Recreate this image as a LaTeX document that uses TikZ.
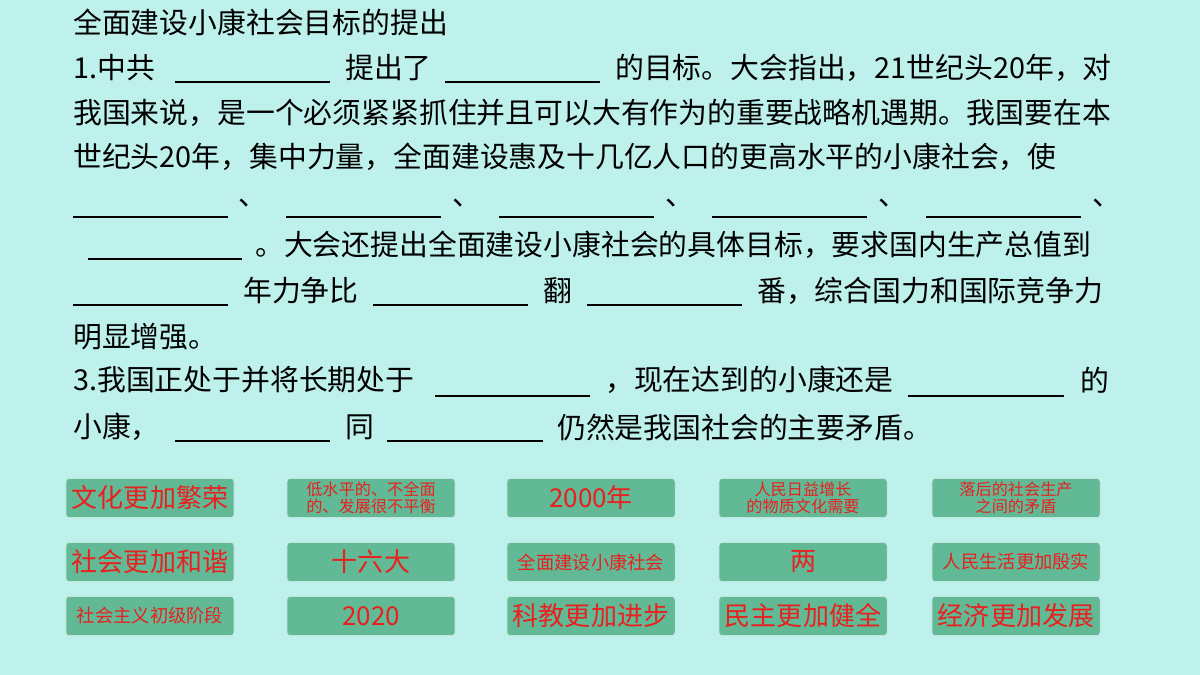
\documentclass[tikz,border=0pt]{standalone}
\usepackage{fontspec}
\setmainfont{Noto Sans CJK SC}
\definecolor{bgc}{HTML}{BFF1EC}
\definecolor{btn}{HTML}{62B996}
\definecolor{txtred}{HTML}{E8201E}
\tikzset{
  line/.style={anchor=west, inner sep=0pt, font=\fontsize{20.5}{20.5}\selectfont},
  choice/.style={draw=white!70!btn, fill=btn, rounded corners=2pt, minimum width=4.2cm, minimum height=0.97cm, inner sep=0pt, text=txtred, align=center},
  big/.style={font=\fontsize{18.5}{18.5}\selectfont},
  small/.style={font=\fontsize{13}{14}\selectfont},
  tiny/.style={font=\fontsize{11.5}{12}\selectfont}
}
\newcommand{\blank}[3]{\draw[line width=0.8pt] (#1,#3) -- (#2,#3);}
\begin{document}
\begin{tikzpicture}[x=0.025cm, y=-0.025cm]
\fill[bgc] (0,0) rectangle (1200,675);
\useasboundingbox (0,0) rectangle (1200,675);
% title
\node[line] (t0) at (73,22) {全面建设小康社会目标的提出};
% question 1
\node[line] (l1a) at (73,68) {1.中共};
\blank{175}{330}{82}
\node[line] (l1b) at (345,68) {提出了};
\blank{445}{600}{82}
\node[line] (l1c) at (615,68) {的目标。大会指出，21世纪头20年，对};
\node[line] (l2) at (73,113) {我国来说，是一个必须紧紧抓住并且可以大有作为的重要战略机遇期。我国要在本};
\node[line] (l3) at (73,157) {世纪头20年，集中力量，全面建设惠及十几亿人口的更高水平的小康社会，使};
\foreach \x/\p in {73/238,286/452,499/665,712/878,926/1092}{
  \blank{\x}{\x+155}{217}
  \node[line] at (\p,203) {、};
}
\blank{88}{242}{259}
\node[line] (l5) at (255,245) {。大会还提出全面建设小康社会的具体目标，要求国内生产总值到};
\blank{73}{228}{305}
\node[line] (l6a) at (243,291) {年力争比};
\blank{373}{528}{305}
\node[line] (l6b) at (543,291) {翻};
\blank{587}{742}{305}
\node[line] (l6c) at (757,291) {番，综合国力和国际竞争力};
\node[line] (l7) at (73,337) {明显增强。};
% question 3
\node[line] (l8a) at (73,380) {3.我国正处于并将长期处于};
\blank{435}{590}{396}
\node[line] (l8b) at (605,380) {，现在达到的小康还是};
\blank{908}{1064}{396}
\node[line] (l8c) at (1080,380) {的};
\node[line] (l9a) at (73,427) {小康，};
\blank{175}{330}{441}
\node[line] (l9b) at (345,427) {同};
\blank{387}{543}{441}
\node[line] (l9c) at (557,427) {仍然是我国社会的主要矛盾。};
% answer buttons
\node[choice, big] (b11) at (150,498) {文化更加繁荣};
\node[choice, tiny] (b12) at (371,498) {低水平的、不全面\\的、发展很不平衡};
\node[choice, big] (b13) at (591,498) {2000年};
\node[choice, tiny] (b14) at (803,498) {人民日益增长\\的物质文化需要};
\node[choice, tiny] (b15) at (1016,498) {落后的社会生产\\之间的矛盾};
\node[choice, big] (b21) at (150,562) {社会更加和谐};
\node[choice, big] (b22) at (371,562) {十六大};
\node[choice, small] (b23) at (591,562) {全面建设小康社会};
\node[choice, big] (b24) at (803,562) {两};
\node[choice, small] (b25) at (1016,562) {人民生活更加殷实};
\node[choice, small] (b31) at (150,616) {社会主义初级阶段};
\node[choice, big] (b32) at (371,616) {2020};
\node[choice, big] (b33) at (591,616) {科教更加进步};
\node[choice, big] (b34) at (803,616) {民主更加健全};
\node[choice, big] (b35) at (1016,616) {经济更加发展};
\end{tikzpicture}
\end{document}
